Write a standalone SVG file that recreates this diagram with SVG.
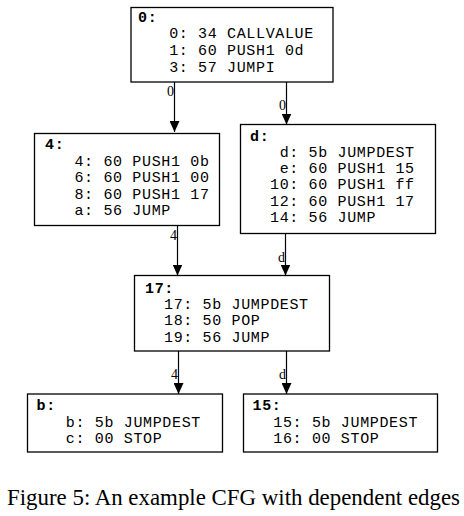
<svg xmlns="http://www.w3.org/2000/svg" width="464" height="516" viewBox="0 0 464 516">
<defs>
<style>
.box{fill:#fff;stroke:#000;stroke-width:1.3}
.hd{font-family:"Liberation Mono","Courier New",monospace;font-size:15px;letter-spacing:0.65px;font-weight:bold;fill:#000}
.ln{font-family:"Liberation Mono","Courier New",monospace;font-size:15px;letter-spacing:0.65px;fill:#000;white-space:pre}
.edge{stroke:#000;stroke-width:1.2;fill:none}
.el{font-family:"Liberation Serif","Times New Roman",serif;font-size:14px;fill:#000;text-anchor:end}
.cap{font-family:"Liberation Serif","Times New Roman",serif;font-size:22.5px;fill:#000}
</style>
<marker id="ah" markerWidth="10" markerHeight="11" refX="5" refY="11" orient="0" markerUnits="userSpaceOnUse">
<path d="M0,0 L10,0 L5,11 Z" fill="#000"/>
</marker>
</defs>
<rect width="464" height="516" fill="#fff"/>
<g id="connectors">
<line class="edge" x1="174.5" y1="82" x2="174.5" y2="132" marker-end="url(#ah)"/>
<text class="el" x="174" y="96">0</text>
<line class="edge" x1="286.5" y1="82" x2="286.5" y2="124.5" marker-end="url(#ah)"/>
<text class="el" x="286" y="110">0</text>
<line class="edge" x1="177.5" y1="225.5" x2="177.5" y2="275.5" marker-end="url(#ah)"/>
<text class="el" x="177" y="240">4</text>
<line class="edge" x1="285.5" y1="233.5" x2="285.5" y2="275.5" marker-end="url(#ah)"/>
<text class="el" x="285" y="262">d</text>
<line class="edge" x1="178.5" y1="351" x2="178.5" y2="394" marker-end="url(#ah)"/>
<text class="el" x="178" y="379">4</text>
<line class="edge" x1="286.5" y1="351" x2="286.5" y2="394" marker-end="url(#ah)"/>
<text class="el" x="286" y="379">d</text>
</g>
<g id="node0">
<rect class="box" x="131" y="7.5" width="202" height="74.5"/>
<text class="hd" x="138" y="22">0:</text>
<text class="ln" x="159.5" y="38.3"> 0: 34 CALLVALUE</text>
<text class="ln" x="159.5" y="55"> 1: 60 PUSH1 0d</text>
<text class="ln" x="159.5" y="71.7"> 3: 57 JUMPI</text>
</g>
<g id="node4">
<rect class="box" x="34.5" y="133.5" width="185" height="92"/>
<text class="hd" x="45" y="149.3">4:</text>
<text class="ln" x="64.8" y="166"> 4: 60 PUSH1 0b</text>
<text class="ln" x="64.8" y="182.4"> 6: 60 PUSH1 00</text>
<text class="ln" x="64.8" y="198.7"> 8: 60 PUSH1 17</text>
<text class="ln" x="64.8" y="215"> a: 56 JUMP</text>
</g>
<g id="noded">
<rect class="box" x="240.5" y="124.5" width="195" height="109"/>
<text class="hd" x="250" y="140.7">d:</text>
<text class="ln" x="270" y="156.7"> d: 5b JUMPDEST</text>
<text class="ln" x="270" y="173"> e: 60 PUSH1 15</text>
<text class="ln" x="270" y="189.4">10: 60 PUSH1 ff</text>
<text class="ln" x="270" y="205.8">12: 60 PUSH1 17</text>
<text class="ln" x="270" y="222">14: 56 JUMP</text>
</g>
<g id="node17">
<rect class="box" x="134.5" y="275.5" width="195" height="75.5"/>
<text class="hd" x="145" y="292.7">17:</text>
<text class="ln" x="164" y="308.5">17: 5b JUMPDEST</text>
<text class="ln" x="164" y="325">18: 50 POP</text>
<text class="ln" x="164" y="341.5">19: 56 JUMP</text>
</g>
<g id="nodeb">
<rect class="box" x="27.5" y="394" width="195" height="58"/>
<text class="hd" x="36.5" y="409.5">b:</text>
<text class="ln" x="56.2" y="426.5"> b: 5b JUMPDEST</text>
<text class="ln" x="56.2" y="442.7"> c: 00 STOP</text>
</g>
<g id="node15">
<rect class="box" x="243.5" y="394" width="194" height="58"/>
<text class="hd" x="252.5" y="409.5">15:</text>
<text class="ln" x="273.3" y="426.5">15: 5b JUMPDEST</text>
<text class="ln" x="273.3" y="442.7">16: 00 STOP</text>
</g>
<text class="cap" x="7" y="505" textLength="453" lengthAdjust="spacingAndGlyphs">Figure 5: An example CFG with dependent edges</text>
</svg>
